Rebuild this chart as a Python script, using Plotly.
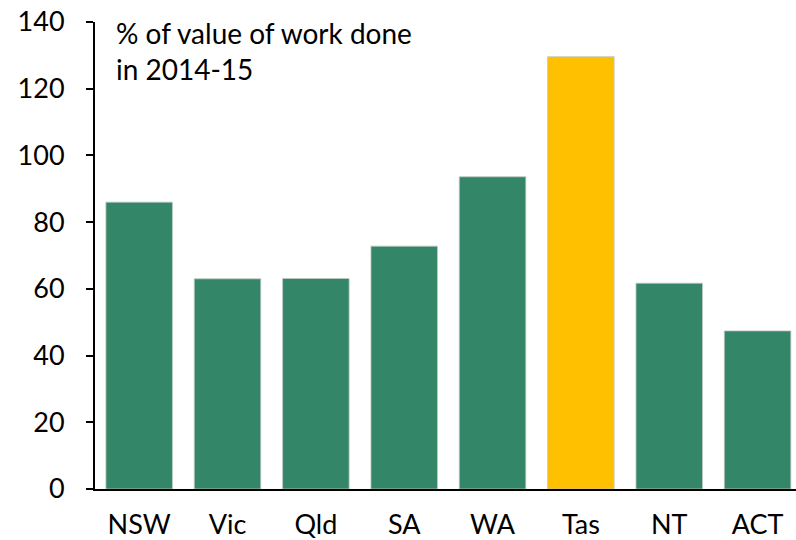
import plotly.graph_objects as go

states = ["NSW", "Vic", "Qld", "SA", "WA", "Tas", "NT", "ACT"]
values = [86.0, 63.0, 63.1, 72.8, 93.6, 129.6, 61.7, 47.4]
highlight = "Tas"
y_ticks = [0, 20, 40, 60, 80, 100, 120, 140]
note = "% of value of work done<br>in 2014-15"

GREEN = "#338667"
YELLOW = "#FFC000"
colors = [YELLOW if s == highlight else GREEN for s in states]

fig = go.Figure(go.Bar(
    x=states, y=values,
    marker=dict(color=colors, line=dict(color="rgba(190,200,195,0.8)", width=1)),
    width=0.753,
))

font = "Lato, 'Open Sans', sans-serif"
fig.update_layout(
    width=796, height=540,
    margin=dict(l=95, r=0, t=22, b=51),
    plot_bgcolor="white", paper_bgcolor="white",
    font=dict(family=font, size=27, color="black"),
    showlegend=False,
    xaxis=dict(
        type="category", range=[-0.5, 7.435], automargin=False,
        showline=True, linecolor="black", linewidth=2,
        ticks="", showgrid=False, tickfont=dict(size=27),
        ticklabelstandoff=11,
    ),
    yaxis=dict(
        range=[0, 140], tickvals=y_ticks, automargin=False,
        showline=True, linecolor="black", linewidth=2,
        ticks="outside", ticklen=7, tickwidth=2, tickcolor="black",
        showgrid=False, zeroline=False, tickfont=dict(size=27),
        ticklabelstandoff=16,
    ),
    annotations=[dict(
        x=0.027, y=1.0, xref="paper", yref="paper",
        xanchor="left", yanchor="top", align="left", yshift=8,
        text=note, showarrow=False,
        font=dict(family=font, size=28, color="black"),
    )],
)

fig.write_html(
    "out.html",
    config={"displayModeBar": False},
    post_script="document.body.style.margin='0';document.body.style.overflow='hidden';",
)
